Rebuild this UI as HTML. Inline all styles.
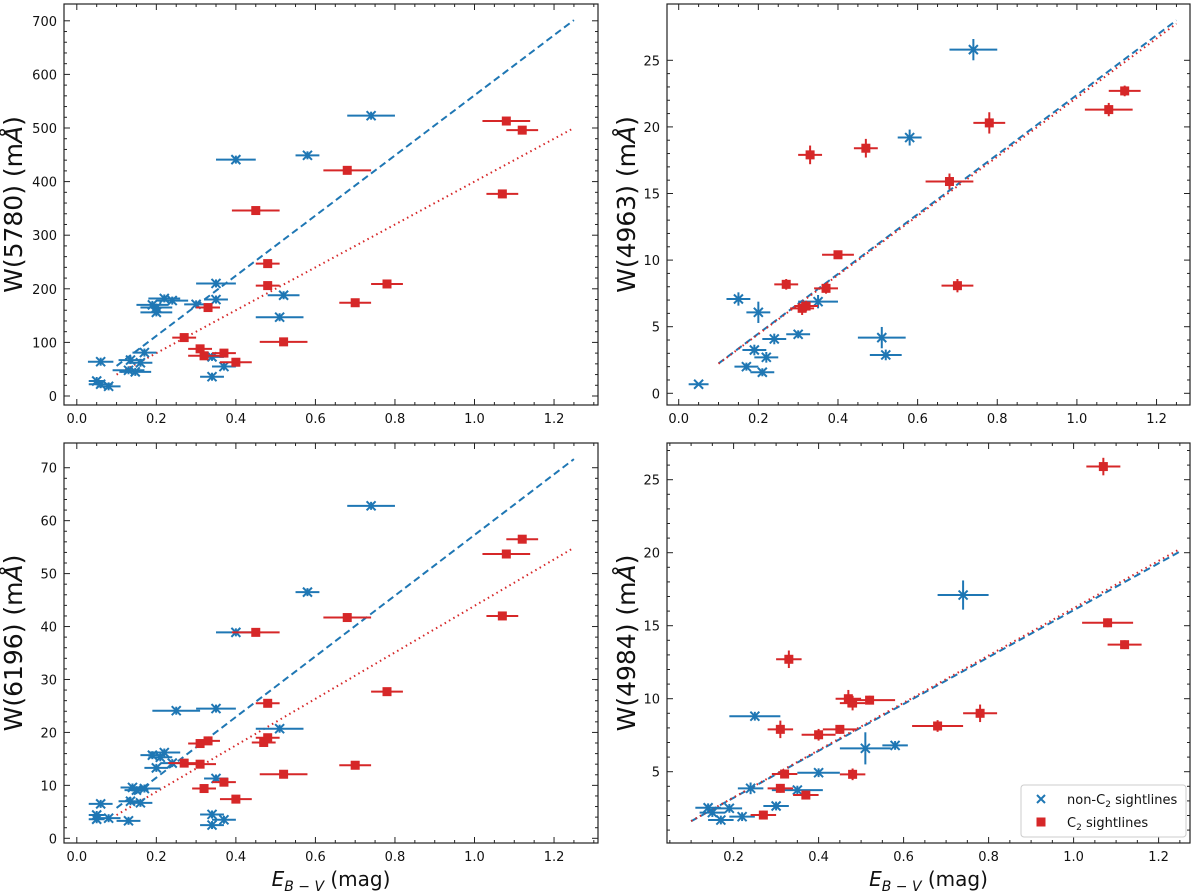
<!DOCTYPE html>
<html><head><meta charset="utf-8">
<style>
html,body{margin:0;padding:0;background:#fff;}
svg{display:block;font-family:"DejaVu Sans","Liberation Sans",sans-serif;}
</style></head>
<body>
<svg id="fig" width="1200" height="892" viewBox="0 0 1200 892"></svg>
<script>
// ---- Panel A: W(5780)
const a_blueX=[0.05,0.06,0.08,0.06,0.13,0.135,0.147,0.16,0.17,0.19,0.2,0.2,0.22,0.24,0.3,0.35,0.35,0.34,0.37,0.34,0.4,0.52,0.51,0.58,0.74];
const a_blueY=[28,22,18,64,48,67,45,62,81,170,165,156,182,178,171,210,180,73,55,36,441,188,147,449,523];
const a_blueE=[0.02,0.03,0.03,0.032,0.04,0.03,0.04,0.03,0.03,0.04,0.04,0.04,0.04,0.04,0.03,0.05,0.03,0.03,0.03,0.03,0.05,0.04,0.06,0.03,0.06];
const a_redX=[0.27,0.31,0.32,0.33,0.37,0.4,0.45,0.48,0.48,0.52,0.68,0.7,0.78,1.07,1.08,1.12];
const a_redY=[109,88,75,165,80,63,346,247,206,101,421,174,209,377,513,496];
const a_redE=[0.03,0.03,0.04,0.03,0.03,0.04,0.06,0.03,0.03,0.06,0.06,0.04,0.04,0.04,0.06,0.04];
const a_fit=[561,400];
// ---- Panel B: W(4963)
const b_blueX=[0.05,0.15,0.2,0.19,0.17,0.21,0.22,0.24,0.3,0.35,0.51,0.52,0.58,0.74];
const b_blueY=[0.68,7.08,6.08,3.25,2.0,1.58,2.7,4.08,4.43,6.88,4.18,2.88,19.2,25.8];
const b_blueE=[0.025,0.03,0.03,0.03,0.03,0.03,0.03,0.03,0.03,0.05,0.06,0.04,0.03,0.06];
const b_blueYE=[0.1,0.5,0.8,0.4,0.3,0.3,0.4,0.4,0.3,0.5,0.8,0.4,0.6,0.8];
const b_redX=[0.27,0.31,0.32,0.33,0.37,0.4,0.47,0.68,0.7,0.78,1.08,1.12];
const b_redY=[8.18,6.38,6.55,17.9,7.88,10.4,18.4,15.9,8.08,20.3,21.3,22.7];
const b_redE=[0.03,0.03,0.03,0.03,0.03,0.04,0.03,0.06,0.04,0.04,0.06,0.04];
const b_redYE=[0.4,0.5,0.4,0.7,0.4,0.3,0.7,0.6,0.5,0.8,0.5,0.4];
const b_fit=[22.4,22.2];
// ---- Panel C: W(6196)
const c_blueX=[0.05,0.05,0.06,0.08,0.13,0.14,0.15,0.17,0.135,0.16,0.19,0.2,0.21,0.22,0.24,0.25,0.35,0.35,0.34,0.34,0.37,0.4,0.51,0.58,0.74];
const c_blueY=[4.4,3.6,6.5,3.8,3.3,9.6,9.1,9.4,7.0,6.7,15.7,13.3,15.3,16.2,14.2,24.1,24.5,11.3,4.5,2.5,3.5,38.9,20.7,46.5,62.8];
const c_blueE=[0.02,0.02,0.03,0.03,0.03,0.03,0.03,0.04,0.03,0.03,0.03,0.03,0.03,0.04,0.03,0.06,0.05,0.03,0.03,0.03,0.03,0.05,0.06,0.03,0.06];
const c_redX=[0.27,0.31,0.31,0.33,0.32,0.37,0.4,0.45,0.48,0.47,0.48,0.52,0.68,0.7,0.78,1.07,1.08,1.12];
const c_redY=[14.2,14.0,17.9,18.4,9.4,10.6,7.4,38.9,25.5,18.1,19.0,12.1,41.7,13.8,27.7,42.0,53.7,56.5];
const c_redE=[0.04,0.04,0.03,0.03,0.03,0.03,0.04,0.06,0.03,0.03,0.03,0.06,0.06,0.04,0.04,0.04,0.06,0.04];
const c_fit=[57.3,43.9];
// ---- Panel D: W(4984)
const d_blueX=[0.14,0.15,0.17,0.19,0.22,0.24,0.25,0.3,0.35,0.4,0.51,0.58,0.74];
const d_blueY=[2.53,2.2,1.69,2.49,1.92,3.86,8.8,2.65,3.74,4.93,6.6,6.8,17.1];
const d_blueE=[0.03,0.03,0.03,0.03,0.03,0.03,0.06,0.03,0.06,0.05,0.06,0.03,0.06];
const d_blueYE=[0.3,0.3,0.3,0.3,0.3,0.4,0.3,0.3,0.3,0.3,1.1,0.3,1.0];
const d_redX=[0.27,0.31,0.32,0.31,0.33,0.37,0.4,0.45,0.48,0.47,0.48,0.52,0.68,0.78,1.07,1.08,1.12];
const d_redY=[2.03,3.86,4.84,7.9,12.7,3.4,7.53,7.9,4.82,10.0,9.7,9.9,8.13,9.0,25.9,15.2,13.7];
const d_redE=[0.03,0.03,0.03,0.03,0.03,0.03,0.04,0.04,0.03,0.03,0.03,0.06,0.06,0.04,0.04,0.06,0.04];
const d_redYE=[0.3,0.3,0.3,0.6,0.6,0.3,0.4,0.3,0.4,0.6,0.5,0.3,0.4,0.6,0.6,0.3,0.3];
const d_fit=[16.06,16.2];
const xTicksFull=["0.0","0.2","0.4","0.6","0.8","1.0","1.2"];
const xTicksD=["0.2","0.4","0.6","0.8","1.0","1.2"];

const NS="http://www.w3.org/2000/svg";
const svg=document.getElementById('fig');
const BLUE="#1f77b4",RED="#d62728";
function mk(tag,attrs,parent){const e=document.createElementNS(NS,tag);for(const k in attrs)e.setAttribute(k,attrs[k]);(parent||svg).appendChild(e);return e;}

function panel(p){
  const g=mk('g',{});
  
  
  const sx=v=>p.x0+v*p.xs, sy=v=>p.y0-v*p.ys;
  const L=p.box[0],R=p.box[1],T=p.box[2],B=p.box[3];
  const tg=mk('g',{stroke:'#222','stroke-width':1},g);
  
  
  for(let v=-0.1;v<=1.35;v+=0.05){const x=sx(v);if(x<L+1||x>R-1)continue;
    const maj=Math.abs(v*5-Math.round(v*5))<1e-6;const len=maj?6:3;
    mk('line',{x1:x,y1:B,x2:x,y2:B-len},tg);mk('line',{x1:x,y1:T,x2:x,y2:T+len},tg);}
  for(let v=0;v<=p.ymax;v+=p.ymin){const y=sy(v);if(y<T+1||y>B-1)continue;
    const maj=Math.abs(v/p.ymaj-Math.round(v/p.ymaj))<1e-6;const len=maj?6:3;
    mk('line',{x1:L,y1:y,x2:L+len,y2:y},tg);mk('line',{x1:R,y1:y,x2:R-len,y2:y},tg);}
  p.xt.forEach(s=>{const t=mk('text',{x:sx(parseFloat(s)),y:B+18,'text-anchor':'middle','font-size':13,fill:'#111'},g);t.textContent=s;
    });
  for(let v=p.yfirst;v<=p.ymax;v+=p.ymaj){const t=mk('text',{x:L-7,y:sy(v)+5,'text-anchor':'end','font-size':13,fill:'#111'},g);t.textContent=String(v);
    }
  const yl=mk('text',{x:0,y:0,transform:`translate(${p.ylx},${(T+B)/2}) rotate(-90)`,'text-anchor':'middle','font-size':25,fill:'#111'},g);
  yl.innerHTML=`W(${p.band}) (m<tspan font-style="italic">Å</tspan>)`;
  
  if(p.xlabel){const xl=mk('text',{x:(L+R)/2,y:B+43,'text-anchor':'middle','font-size':20,fill:'#111'},g);
    xl.innerHTML='<tspan font-style="italic">E</tspan><tspan font-size="14" dy="5" font-style="italic">B − V</tspan><tspan dy="-5"> (mag)</tspan>';
    }
  const bl=mk('line',{x1:sx(0.1),y1:sy(0.1*p.fit[0]),x2:sx(1.25),y2:sy(1.25*p.fit[0]),stroke:BLUE,'stroke-width':2,'stroke-dasharray':'7,4'},g);
  
  const rl=mk('line',{x1:sx(0.1),y1:sy(0.1*p.fit[1]),x2:sx(1.25),y2:sy(1.25*p.fit[1]),stroke:RED,'stroke-width':2,'stroke-dasharray':'1.5,3.5'},g);
  
  p.bx.forEach((xv,i)=>{const x=sx(xv),y=sy(p.by[i]);const pg=mk('g',{stroke:BLUE,'stroke-width':2},g);
    
    mk('line',{x1:sx(xv-p.be[i]),y1:y,x2:sx(xv+p.be[i]),y2:y},pg);
    const ye=p.bye?p.bye[i]*p.ys:4;mk('line',{x1:x,y1:y-ye,x2:x,y2:y+ye},pg);
    mk('path',{d:`M${x-4.5},${y-4.5}L${x+4.5},${y+4.5}M${x-4.5},${y+4.5}L${x+4.5},${y-4.5}`},pg);});
  p.rx.forEach((xv,i)=>{const x=sx(xv),y=sy(p.ry[i]);const pg=mk('g',{stroke:RED,'stroke-width':2,fill:RED},g);
    
    mk('line',{x1:sx(xv-p.re[i]),y1:y,x2:sx(xv+p.re[i]),y2:y},pg);
    const ye=p.rye?p.rye[i]*p.ys:4;mk('line',{x1:x,y1:y-ye,x2:x,y2:y+ye},pg);
    mk('rect',{x:x-4.5,y:y-4.5,width:9,height:9,stroke:'none'},pg);});
  const fr=mk('rect',{x:L,y:T,width:R-L,height:B-T,fill:'none',stroke:'#222','stroke-width':1.2},g);
  
  return g;
}
panel({name:'panel-w5780',box:[64,598,4,405],x0:76.8,xs:397.7,y0:396,ys:0.536,ymaj:100,ymin:20,yfirst:0,ymax:700,xt:xTicksFull,ylx:22,band:'5780',fit:a_fit,
  bx:a_blueX,by:a_blueY,be:a_blueE,rx:a_redX,ry:a_redY,re:a_redE});
panel({name:'panel-w4963',box:[667,1190,4,405],x0:678.7,xs:398.2,y0:393.3,ys:13.32,ymaj:5,ymin:1,yfirst:0,ymax:25,xt:xTicksFull,ylx:635,band:'4963',fit:b_fit,
  bx:b_blueX,by:b_blueY,be:b_blueE,bye:b_blueYE,rx:b_redX,ry:b_redY,re:b_redE,rye:b_redYE});
panel({name:'panel-w6196',box:[64,598,443,843],x0:76.8,xs:397.7,y0:838.3,ys:5.294,ymaj:10,ymin:2,yfirst:0,ymax:70,xt:xTicksFull,ylx:22,band:'6196',fit:c_fit,xlabel:true,
  bx:c_blueX,by:c_blueY,be:c_blueE,rx:c_redX,ry:c_redY,re:c_redE});
panel({name:'panel-w4984',box:[667,1190,443,843],x0:648.6,xs:425,y0:844.7,ys:14.6,ymaj:5,ymin:1,yfirst:5,ymax:27,xt:xTicksD,ylx:635,band:'4984',fit:d_fit,xlabel:true,
  bx:d_blueX,by:d_blueY,be:d_blueE,bye:d_blueYE,rx:d_redX,ry:d_redY,re:d_redE,rye:d_redYE});
</script>
<svg style="position:absolute;left:0;top:0" width="1200" height="892">
  <g font-family="DejaVu Sans, Liberation Sans, sans-serif">
    <rect x="1021" y="785" width="165" height="52" rx="3" fill="#fff" stroke="#ccc"/>
    <g>
      <path d="M1037,795L1045,803M1037,803L1045,795" stroke="#1f77b4" stroke-width="2"/>
      <text x="1067" y="804" font-size="13" fill="#111">non-C<tspan font-size="9" dy="3">2</tspan><tspan dy="-3"> sightlines</tspan></text>
    </g>
    <g>
      <rect x="1036.5" y="817.5" width="9" height="9" fill="#d62728"/>
      <text x="1067" y="827" font-size="13" fill="#111">C<tspan font-size="9" dy="3">2</tspan><tspan dy="-3"> sightlines</tspan></text>
    </g>
  </g>
</svg>
</body></html>
